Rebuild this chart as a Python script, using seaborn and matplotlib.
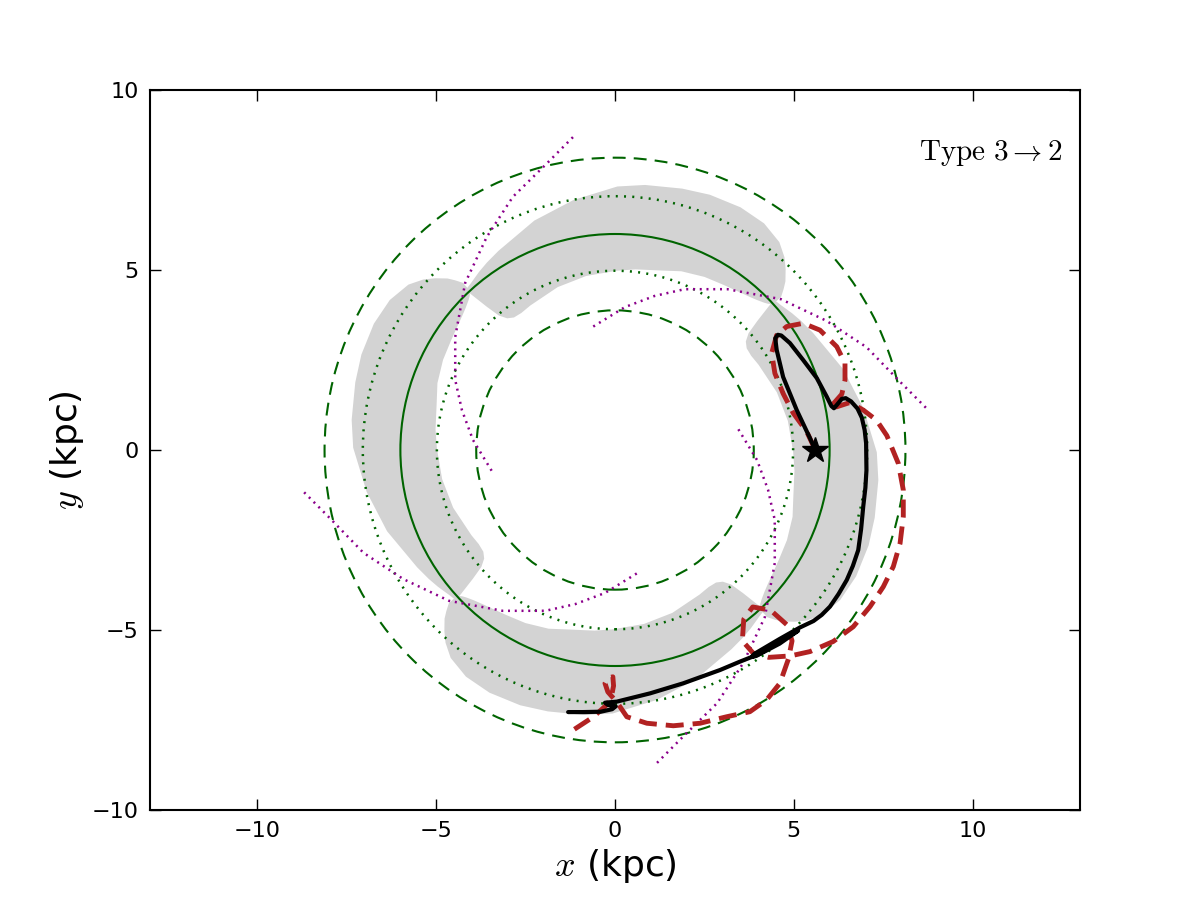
import numpy as np
import seaborn as sns
import matplotlib.pyplot as plt
from matplotlib.patches import Circle

# resonance circles (kpc) and their styles
circle_r = [3.88, 4.98, 6.0, 7.05, 8.12]
circle_ls = [(0, (6.2, 3.9)), (0, (0.8, 2.5)), '-', (0, (0.8, 2.5)), (0, (6.2, 3.9))]

# grey arm outline, angle measured from the notch where the arm starts (deg)
arm_phi = [0, 1, 2, 4, 6, 9, 14, 20, 27, 33, 41, 47, 57, 67, 78, 82, 85, 87, 88.5, 89.5, 90.5]
arm_r_out = [6.3, 6.5, 6.68, 6.93, 7.15, 7.38, 7.55, 7.6, 7.57, 7.5, 7.41, 7.32, 7.04, 6.76, 6.42, 6.32, 6.24, 6.18, 6.14, 6.12, 6.1]
arm_r_in = [6.0, 5.9, 5.84, 5.75, 5.68, 5.6, 5.5, 5.42, 5.3, 5.15, 5.05, 4.98, 4.9, 4.8, 4.66, 4.62, 4.64, 4.74, 4.95, 5.35, 5.95]
arm_start = [42.5, 132.5, 222.5, 312.5]

# magenta spiral arm segment (polar) and the four copies
spiral_theta = [97.7, 103.4, 112.1, 121.2, 132.1, 144.9, 156.5, 165.5, 176.0, 190.6]
spiral_r = [8.77, 8.19, 7.59, 6.92, 6.25, 5.46, 4.87, 4.42, 3.98, 3.47]
spiral_rot = [0, 90, 180, 270]

# orbit (black)
orbit_x = [5.59, 5.45, 5.08, 4.7, 4.52, 4.48, 4.55, 4.65, 4.89, 5.26, 5.64, 5.92, 6.05, 6.12, 6.2, 6.34,
           6.45, 6.6, 6.78, 6.9, 6.98, 7.02, 7.03, 7.0, 6.94, 6.88, 6.8, 6.65, 6.48, 6.25, 6.01, 5.78, 5.55, 5.17,
           4.6, 3.9, 3.82, 3.95, 4.6, 5.12, 4.6, 4.0, 3.49, 2.94, 1.91, 0.98, 0.05, -0.28, -0.2, 0.02, -0.08,
           -0.4, -0.89, -1.31]
orbit_y = [0.02, 0.33, 1.11, 2.03, 2.78, 3.1, 3.2, 3.18, 2.97, 2.5, 2.0, 1.48, 1.22, 1.16, 1.25, 1.42,
           1.44, 1.35, 1.15, 0.9, 0.55, 0.19, -0.56, -1.05, -1.57, -2.2, -2.78, -3.22, -3.61, -4.0, -4.35, -4.58, -4.75, -4.93,
           -5.25, -5.66, -5.75, -5.72, -5.38, -5.02, -5.32, -5.68, -5.88, -6.11, -6.48, -6.76, -6.99, -7.02, -7.08, -7.12, -7.2,
           -7.27, -7.28, -7.28]

# guiding path (red dashed)
guide_x = [5.59, 5.36, 4.98, 4.7, 4.47, 4.38, 4.52, 4.8, 5.26, 5.73, 6.2, 6.43, 6.43, 6.34, 6.1, 5.97,
           6.2, 6.57, 6.94, 7.31, 7.6, 7.92, 8.06, 8.06, 7.97, 7.78, 7.5, 7.13, 6.66, 6.1, 5.45, 4.9,
           4.3, 3.86, 3.56, 3.6, 3.85, 4.35, 4.8, 4.95, 4.85, 4.61, 4.24, 3.77, 3.12, 2.38, 1.63, 0.89,
           0.33, 0.05, -0.2, -0.28, -0.2, -0.06, -0.04, -0.09, -0.2, -0.6, -1.17, -1.28]
guide_y = [0.02, 0.51, 1.03, 1.57, 2.13, 2.69, 3.19, 3.43, 3.52, 3.33, 2.87, 2.41, 1.94, 1.55, 1.28, 1.2,
           1.2, 1.32, 1.11, 0.83, 0.4, -0.37, -1.11, -1.85, -2.59, -3.24, -3.8, -4.35, -4.91, -5.32, -5.6, -5.72,
           -5.76, -5.64, -5.3, -4.7, -4.36, -4.45, -4.85, -5.3, -5.8, -6.48, -6.94, -7.27, -7.41, -7.59, -7.66, -7.59,
           -7.41, -7.0, -6.72, -6.48, -6.33, -6.3, -6.55, -6.8, -7.05, -7.41, -7.78, -7.9]

star_x, star_y = 5.59, 0.0

sns.set_style("ticks")
plt.rcParams['font.family'] = ['DejaVu Sans']
plt.rcParams['mathtext.fontset'] = 'cm'
plt.rcParams['xtick.direction'] = 'in'
plt.rcParams['ytick.direction'] = 'in'
for k in ['text.color', 'axes.labelcolor', 'xtick.color', 'ytick.color', 'axes.edgecolor']:
    plt.rcParams[k] = 'black'

fig, ax = plt.subplots(figsize=(12, 9), dpi=100)
fig.subplots_adjust(left=0.125, right=0.9, bottom=0.1, top=0.9)

# grey arms
phi = np.array(arm_phi)
for a0 in arm_start:
    th = np.radians(np.concatenate([phi, phi[::-1]]) + a0)
    rr = np.concatenate([arm_r_out, arm_r_in[::-1]])
    ax.fill(rr * np.cos(th), rr * np.sin(th), color='lightgray', lw=0, zorder=0)

# circles
for r, ls in zip(circle_r, circle_ls):
    lw = 1.8 if ls != '-' and ls[1][0] < 1 else 1.5
    ax.add_patch(Circle((0, 0), r, fill=False, ec='darkgreen', lw=lw, ls=ls, zorder=2))

# spiral arms
for rot in spiral_rot:
    th = np.radians(np.array(spiral_theta) + rot)
    sns.lineplot(x=np.array(spiral_r) * np.cos(th), y=np.array(spiral_r) * np.sin(th),
                 sort=False, estimator=None, color='darkmagenta', lw=1.8,
                 linestyle=(0, (0.8, 1.9)), ax=ax, zorder=2)

sns.lineplot(x=guide_x, y=guide_y, sort=False, estimator=None, color='firebrick', lw=3.5,
             linestyle=(0, (3.7, 1.85)), ax=ax, zorder=3)
sns.lineplot(x=orbit_x, y=orbit_y, sort=False, estimator=None, color='black', lw=3,
             ax=ax, zorder=4)
ax.plot(star_x, star_y, marker='*', color='black', ms=19, zorder=5)

ax.text(12.5, 8.25, r'$\mathrm{Type\ 3 \rightarrow 2}$', ha='right', va='center', fontsize=21)

ax.set_xlim(-13, 13)
ax.set_ylim(-10, 10)
ax.set_xticks([-10, -5, 0, 5, 10])
ax.set_yticks([-10, -5, 0, 5, 10])
ax.tick_params(labelsize=16, length=8, width=1, top=True, right=True, pad=8)
for s in ax.spines.values():
    s.set_visible(True)
    s.set_linewidth(1.5)
ax.set_xlabel(r'$x$ (kpc)', fontsize=26)
ax.set_ylabel(r'$y$ (kpc)', fontsize=26)

fig.savefig('out.png', dpi=100)
